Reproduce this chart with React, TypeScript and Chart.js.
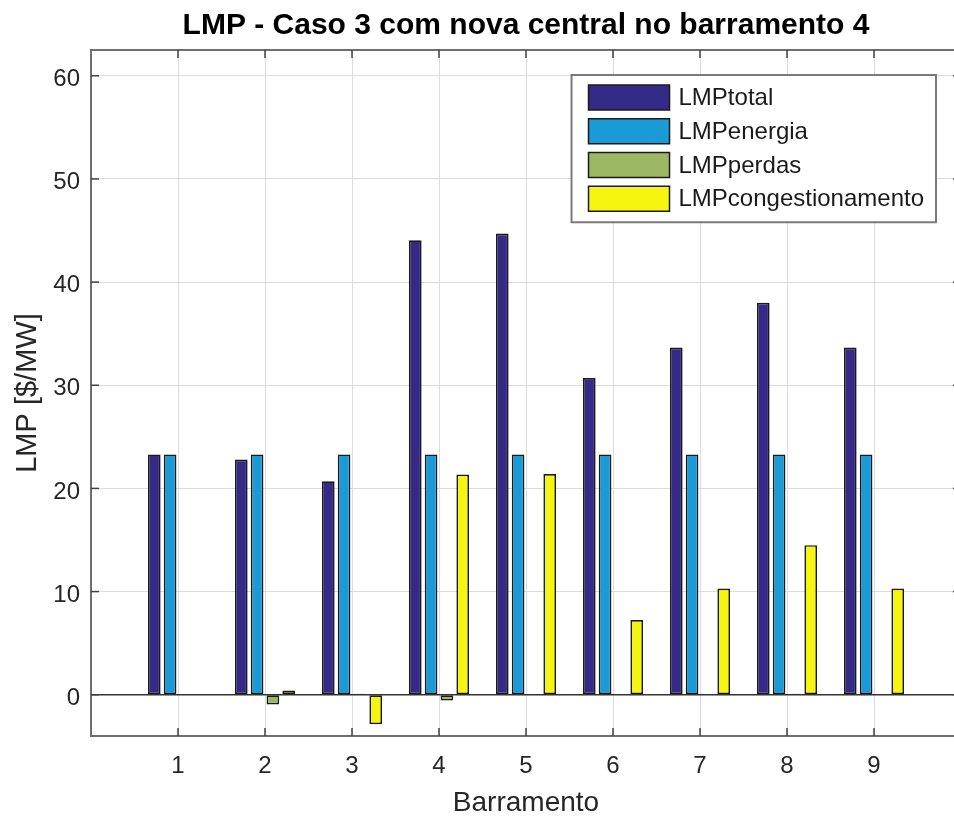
import { useEffect, useRef } from "react";
import { Chart, registerables } from "chart.js";

Chart.register(...registerables);

// ---- data ----
const categories = [1, 2, 3, 4, 5, 6, 7, 8, 9];
const lmpTotal = [23.3, 22.8, 20.7, 44.05, 44.7, 30.7, 33.65, 38.0, 33.65];
const lmpEnergia = [23.3, 23.3, 23.3, 23.3, 23.3, 23.3, 23.3, 23.3, 23.3];
const lmpPerdas = [0, -0.95, 0.1, -0.55, 0, 0.08, 0, 0.1, -0.06];
const lmpCongestionamento = [0, 0.4, -2.85, 21.35, 21.4, 7.25, 10.3, 14.5, 10.3];
const seriesNames = ["LMPtotal", "LMPenergia", "LMPperdas", "LMPcongestionamento"];
const seriesColors = ["#352a87", "#1a9ad6", "#9cb864", "#f5f50f"];
const xTicks = [1, 2, 3, 4, 5, 6, 7, 8, 9];
const yTicks = [0, 10, 20, 30, 40, 50, 60];
const titleText = "LMP - Caso 3 com nova central no barramento 4";
const xTitleText = "Barramento";
const yTitleText = "LMP [$/MW]";

const FONT = "'Liberation Sans', Arial, Helvetica, sans-serif";
const CANVAS_W = 990;
const CANVAS_H = 821;

const decorPlugin = {
  id: "decor",
  afterDatasetsDraw(chart: any) {
    const { ctx, chartArea: a, scales } = chart;
    const x = scales.x;
    const y = scales.y;
    const line = (x1: number, y1: number, x2: number, y2: number) => {
      ctx.beginPath();
      ctx.moveTo(x1, y1);
      ctx.lineTo(x2, y2);
      ctx.stroke();
    };
    ctx.save();
    // zero baseline
    const y0 = y.getPixelForValue(0);
    ctx.strokeStyle = "#333333";
    ctx.lineWidth = 1.5;
    line(a.left, y0, a.right, y0);
    // frame
    ctx.strokeStyle = "#6e6e6e";
    ctx.lineWidth = 2;
    ctx.strokeRect(a.left, a.top, a.right - a.left, a.bottom - a.top);
    // inner tick marks
    ctx.strokeStyle = "#404040";
    ctx.lineWidth = 1.5;
    xTicks.forEach((v) => {
      const px = x.getPixelForValue(v);
      line(px, a.bottom, px, a.bottom - 8);
      line(px, a.top, px, a.top + 8);
    });
    yTicks.forEach((v) => {
      const py = y.getPixelForValue(v);
      line(a.left, py, a.left + 8, py);
      line(a.right, py, a.right - 8, py);
    });
    ctx.restore();
  },
  afterDraw(chart: any) {
    const { ctx, chartArea: a } = chart;
    const datasets = chart.data.datasets;
    ctx.save();
    ctx.font = `24px ${FONT}`;
    let maxText = 0;
    datasets.forEach((d: any) => {
      maxText = Math.max(maxText, ctx.measureText(d.label).width);
    });
    const padL = 17;
    const swW = 81;
    const swH = 25;
    const gap = 9;
    const padR = 12;
    const rowH = 33.75;
    const padT = 22.5;
    const boxW = padL + swW + gap + maxText + padR;
    const boxH = padT * 2 + rowH * (datasets.length - 1) + 1;
    const right = a.right - 25;
    const top = a.top + 25;
    const left = right - boxW;
    ctx.fillStyle = "#ffffff";
    ctx.fillRect(left, top, boxW, boxH);
    ctx.strokeStyle = "#7a7a7a";
    ctx.lineWidth = 2;
    ctx.strokeRect(left, top, boxW, boxH);
    datasets.forEach((d: any, i: number) => {
      const cy = top + padT + i * rowH;
      ctx.fillStyle = d.backgroundColor;
      ctx.fillRect(left + padL, cy - swH / 2, swW, swH);
      ctx.strokeStyle = "#1a1a1a";
      ctx.lineWidth = 1.5;
      ctx.strokeRect(left + padL, cy - swH / 2, swW, swH);
      ctx.fillStyle = "#1a1a1a";
      ctx.textBaseline = "middle";
      ctx.textAlign = "left";
      ctx.fillText(d.label, left + padL + swW + gap, cy + 1);
    });
    ctx.restore();
  },
};

export default function App() {
  const canvasRef = useRef<HTMLCanvasElement | null>(null);

  useEffect(() => {
    const canvas = canvasRef.current;
    if (!canvas) return;
    const series = [lmpTotal, lmpEnergia, lmpPerdas, lmpCongestionamento];
    const chart = new Chart(canvas, {
      type: "bar",
      data: {
        datasets: series.map((vals, i) => ({
          label: seriesNames[i],
          data: categories.map((c, j) => ({ x: c, y: vals[j] })),
          backgroundColor: seriesColors[i],
          borderColor: "#1a1a1a",
          borderWidth: 1.7,
          borderSkipped: false,
          categoryPercentage: 0.727,
          barPercentage: 0.8,
        })),
      },
      options: {
        responsive: false,
        animation: false,
        devicePixelRatio: 1,
        layout: { padding: { top: 0, right: CANVAS_W - 961, bottom: 0, left: 0 } },
        plugins: {
          legend: { display: false },
          tooltip: { enabled: false },
          title: {
            display: true,
            text: titleText,
            color: "#000000",
            fullSize: false,
            font: { family: FONT, size: 30, weight: "bold", lineHeight: 1.2 },
            padding: { top: 8, bottom: 6 },
          },
        },
        scales: {
          x: {
            type: "linear",
            min: 0,
            max: 10,
            offset: false,
            grid: { color: "#dcdcdc", lineWidth: 1, drawTicks: false, offset: false },
            border: { display: false },
            afterBuildTicks: (s: any) => {
              s.ticks = xTicks.map((v) => ({ value: v }));
            },
            ticks: {
              padding: 16,
              color: "#262626",
              font: { family: FONT, size: 24 },
              autoSkip: false,
              maxRotation: 0,
              callback: (v: any) => String(v),
            },
            title: {
              display: true,
              text: xTitleText,
              color: "#262626",
              font: { family: FONT, size: 28, lineHeight: 1.2 },
              padding: { top: 0, bottom: 1 },
            },
            afterFit: (s: any) => {
              s.height = 85;
            },
          },
          y: {
            type: "linear",
            min: -4,
            max: 62.5,
            grid: { color: "#dcdcdc", lineWidth: 1, drawTicks: false },
            border: { display: false },
            afterBuildTicks: (s: any) => {
              s.ticks = yTicks.map((v) => ({ value: v }));
            },
            ticks: {
              padding: 11,
              labelOffset: 3.5,
              color: "#262626",
              font: { family: FONT, size: 24 },
              callback: (v: any) => String(v),
            },
            title: {
              display: true,
              text: yTitleText,
              color: "#262626",
              font: { family: FONT, size: 29, lineHeight: 1.2 },
              padding: { top: 11, bottom: 0 },
            },
            afterFit: (s: any) => {
              s.width = 91;
            },
          },
        },
      },
      plugins: [decorPlugin],
    } as any);
    return () => chart.destroy();
  }, []);

  return (
    <div
      style={{
        position: "fixed",
        left: 0,
        top: 0,
        width: 954,
        height: 821,
        overflow: "hidden",
        background: "#ffffff",
      }}
    >
      <canvas
        ref={canvasRef}
        width={CANVAS_W}
        height={CANVAS_H}
        style={{ width: CANVAS_W, height: CANVAS_H, display: "block" }}
      />
    </div>
  );
}
